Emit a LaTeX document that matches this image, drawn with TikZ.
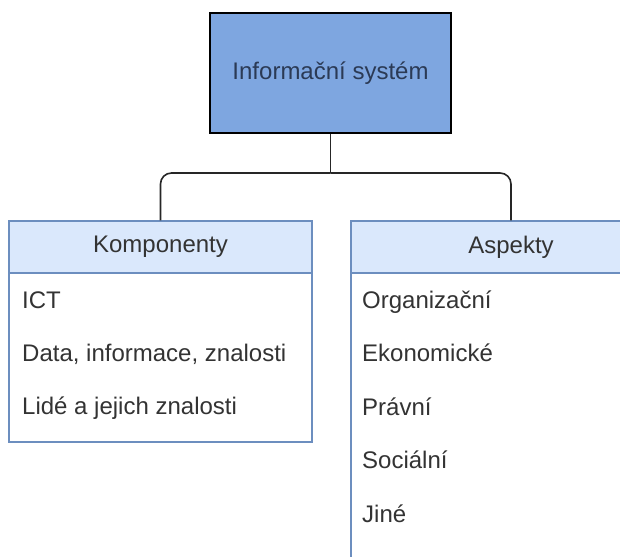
\documentclass[tikz,border=0pt]{standalone}
\usepackage{fontspec}
\setmainfont{Liberation Sans}
\definecolor{topfill}{HTML}{7EA6E0}
\definecolor{toptext}{HTML}{2B3A55}
\definecolor{headfill}{HTML}{DAE8FC}
\definecolor{headline}{HTML}{6C8EBF}
\definecolor{txt}{HTML}{333333}
\begin{document}
\begin{tikzpicture}[x=1pt,y=-1pt,
  every node/.style={font=\fontsize{24}{28}\selectfont, text=txt, inner sep=0pt},
  rootbox/.style={draw=black, line width=1.6pt, fill=topfill, minimum width=241pt, minimum height=120pt, text=toptext},
  headbox/.style={draw=headline, line width=1.4pt, fill=headfill, minimum height=52pt},
  bodybox/.style={draw=headline, line width=1.4pt, fill=white},
  item/.style={anchor=base west},
  conn/.style={draw=black!85, line width=1.6pt, rounded corners=11pt}]
  \useasboundingbox (0,0) rectangle (620,556);
  \clip (0,0) rectangle (620,556);
  \fill[white] (0,0) rectangle (620,556);

  % root element
  \node[rootbox] (top) at (330.5,73) {Informační systém};

  % left list: Komponenty
  \draw[bodybox] (9,273) rectangle (312,442);
  \node[headbox, minimum width=303pt] (komp) at (160.5,247) {Komponenty};
  \node[item] (k1) at (22,308) {ICT};
  \node[item] (k2) at (22,361) {Data, informace, znalosti};
  \node[item] (k3) at (22,414) {Lidé a jejich znalosti};

  % right list: Aspekty
  \draw[bodybox] (351,273) rectangle (671,620);
  \node[headbox, minimum width=320pt] (asp) at (511,247) {Aspekty};
  \node[item] (a1) at (362,308) {Organizační};
  \node[item] (a2) at (362,361.5) {Ekonomické};
  \node[item] (a3) at (362,415) {Právní};
  \node[item] (a4) at (362,468.5) {Sociální};
  \node[item] (a5) at (362,522) {Jiné};

  % tree connectors
  \coordinate (split) at (330.5,173);
  \draw[conn] (top.south) -- (split);
  \draw[conn] (split) -| (komp.north);
  \draw[conn] (split) -| (asp.north);
\end{tikzpicture}
\end{document}
